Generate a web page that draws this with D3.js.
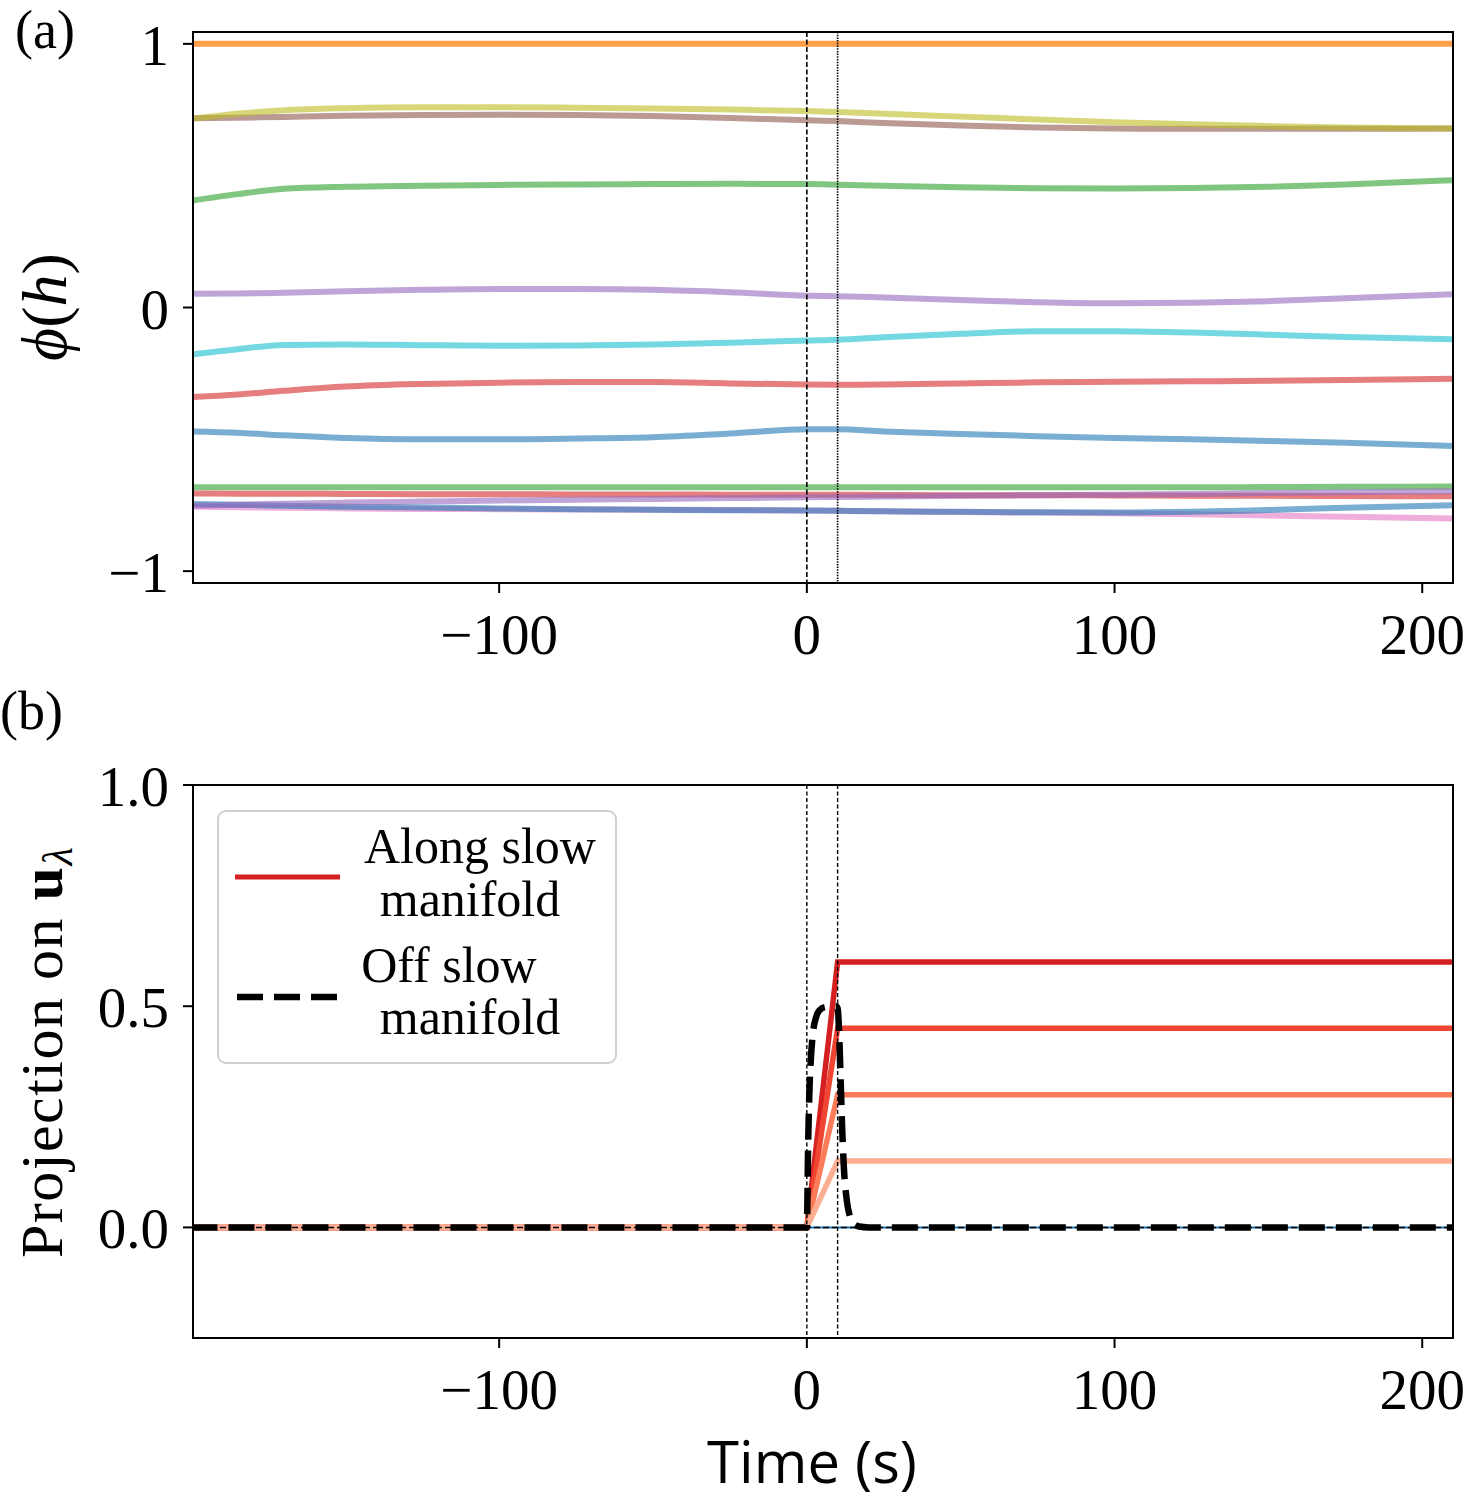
<!DOCTYPE html>
<html>
<head>
<meta charset="utf-8">
<script src="https://cdn.jsdelivr.net/npm/d3@7"></script>
<style>
  html, body { margin: 0; padding: 0; background: #fff; }
  svg { display: block; }
  .serif { font-family: "Liberation Serif", "DejaVu Serif", serif; }
  .sans { font-family: "Open Sans", "Noto Sans", sans-serif; }
</style>
</head>
<body>
<script>
// ---------------- DATA ----------------
// Panel (a): time grid and phi(h) series
const timeA = [-200, -185, -170, -150, -125, -100, -75, -50, -25, 0, 10, 25, 50, 75, 100, 125, 150, 175, 210];
const phiBlue    = [-0.470, -0.475, -0.485, -0.495, -0.500, -0.500, -0.497, -0.492, -0.478, -0.462, -0.462, -0.470, -0.480, -0.488, -0.495, -0.500, -0.506, -0.513, -0.525];
const phiOrange  = [1, 1, 1, 1, 1, 1, 1, 1, 1, 1, 1, 1, 1, 1, 1, 1, 1, 1, 1];
const phiGreen   = [0.405, 0.430, 0.450, 0.458, 0.462, 0.465, 0.467, 0.468, 0.469, 0.468, 0.466, 0.462, 0.456, 0.452, 0.451, 0.453, 0.458, 0.467, 0.483];
const phiRed     = [-0.340, -0.330, -0.316, -0.300, -0.290, -0.285, -0.283, -0.283, -0.288, -0.292, -0.293, -0.292, -0.288, -0.284, -0.282, -0.280, -0.278, -0.275, -0.270];
const phiPurple  = [0.052, 0.053, 0.056, 0.062, 0.067, 0.070, 0.070, 0.067, 0.058, 0.045, 0.043, 0.038, 0.028, 0.020, 0.016, 0.018, 0.024, 0.035, 0.050];
const phiBrown   = [0.718, 0.720, 0.723, 0.727, 0.730, 0.731, 0.730, 0.726, 0.719, 0.710, 0.707, 0.700, 0.690, 0.683, 0.679, 0.678, 0.678, 0.678, 0.679];
const phiPink    = [-0.755, -0.758, -0.760, -0.762, -0.764, -0.765, -0.766, -0.767, -0.768, -0.770, -0.771, -0.773, -0.776, -0.778, -0.780, -0.784, -0.789, -0.794, -0.800];
const phiOlive   = [0.716, 0.735, 0.748, 0.756, 0.760, 0.760, 0.758, 0.755, 0.751, 0.745, 0.742, 0.735, 0.724, 0.713, 0.703, 0.695, 0.688, 0.683, 0.679];
const phiCyan    = [-0.178, -0.158, -0.142, -0.140, -0.143, -0.145, -0.144, -0.140, -0.134, -0.125, -0.122, -0.113, -0.100, -0.090, -0.090, -0.095, -0.103, -0.112, -0.120];
const phiBlue2   = [-0.745, -0.748, -0.752, -0.756, -0.759, -0.762, -0.765, -0.767, -0.769, -0.770, -0.771, -0.773, -0.775, -0.777, -0.778, -0.775, -0.768, -0.760, -0.750];
const phiGreen2  = [-0.682, -0.682, -0.682, -0.682, -0.682, -0.682, -0.682, -0.682, -0.682, -0.682, -0.682, -0.682, -0.682, -0.682, -0.682, -0.682, -0.681, -0.680, -0.679];
const phiRed2    = [-0.705, -0.706, -0.706, -0.707, -0.708, -0.708, -0.709, -0.709, -0.710, -0.710, -0.710, -0.711, -0.712, -0.712, -0.713, -0.714, -0.714, -0.715, -0.716];
const phiPurple2 = [-0.752, -0.748, -0.744, -0.740, -0.736, -0.732, -0.729, -0.726, -0.723, -0.720, -0.719, -0.717, -0.714, -0.712, -0.710, -0.707, -0.704, -0.701, -0.697];
const seriesA = [
  {name: "blue", color: "#1f77b4", values: phiBlue},
  {name: "orange", color: "#ff7f0e", values: phiOrange},
  {name: "green", color: "#2ca02c", values: phiGreen},
  {name: "red", color: "#d62728", values: phiRed},
  {name: "purple", color: "#9467bd", values: phiPurple},
  {name: "brown", color: "#8c564b", values: phiBrown},
  {name: "pink", color: "#e377c2", values: phiPink},
  {name: "olive", color: "#bcbd22", values: phiOlive},
  {name: "cyan", color: "#17becf", values: phiCyan},
  {name: "blue2", color: "#1f77b4", values: phiBlue2},
  {name: "green2", color: "#2ca02c", values: phiGreen2},
  {name: "red2", color: "#d62728", values: phiRed2},
  {name: "purple2", color: "#9467bd", values: phiPurple2}
];

// Panel (b): projections
const timeAlong = [-200, 0, 10, 210];
const alongFinal = [0.6, 0.45, 0.3, 0.15];
const alongColors = ["#d42020", "#f04532", "#fc7c5a", "#fcae92"];
const timeOff = [-200, 0, 0.4, 0.8, 1.3, 2, 3, 4, 6, 9.5, 10, 10.5, 11, 11.5, 12, 13, 14, 15, 17, 20, 210];
const offValues = [0, 0, 0.18, 0.30, 0.38, 0.44, 0.475, 0.49, 0.498, 0.5, 0.495, 0.44, 0.33, 0.22, 0.14, 0.06, 0.025, 0.01, 0.002, 0, 0];
const timeBaseline = [0, 210];

const xTicks = [-100, 0, 100, 200];
const xTickLabels = ["\u2212100", "0", "100", "200"];
const yTicksA = [-1, 0, 1];
const yTickLabelsA = ["\u22121", "0", "1"];
const yTicksB = [0, 0.5, 1.0];
const yTickLabelsB = ["0.0", "0.5", "1.0"];
const markerTimes = [0, 10];

// ---------------- LAYOUT ----------------
const W = 1465, H = 1500;
const svg = d3.select("body").append("svg").attr("width", W).attr("height", H);

const x = d3.scaleLinear().domain([-199.5, 210]).range([193, 1453]);
const yA = d3.scaleLinear().domain([-1.045, 1.045]).range([583, 32]);
const yB = d3.scaleLinear().domain([-0.25, 1.0]).range([1338, 785]);

const tickFont = 57;

function drawAxes(y, ticks, labels, top, bottom) {
  const g = svg.append("g");
  xTicks.forEach((t, i) => {
    g.append("line").attr("x1", x(t)).attr("x2", x(t)).attr("y1", bottom).attr("y2", bottom + 10)
      .attr("stroke", "#000").attr("stroke-width", 2);
    g.append("text").attr("class", "serif").attr("x", x(t)).attr("y", bottom + 71)
      .attr("text-anchor", "middle").attr("font-size", tickFont).text(xTickLabels[i]);
  });
  ticks.forEach((t, i) => {
    g.append("line").attr("x1", 183).attr("x2", 193).attr("y1", y(t)).attr("y2", y(t))
      .attr("stroke", "#000").attr("stroke-width", 2);
    g.append("text").attr("class", "serif").attr("x", 169).attr("y", y(t) + 21)
      .attr("text-anchor", "end").attr("font-size", tickFont).text(labels[i]);
  });
  g.append("rect").attr("x", 193).attr("y", top).attr("width", 1453 - 193).attr("height", bottom - top)
    .attr("fill", "none").attr("stroke", "#000").attr("stroke-width", 2);
}

// ---------------- PANEL (a) ----------------
svg.append("clipPath").attr("id", "clipA").append("rect")
  .attr("x", 193).attr("y", 32).attr("width", 1260).attr("height", 551);
const gA = svg.append("g").attr("clip-path", "url(#clipA)");
const lineA = d3.line().x((d) => x(d[0])).y((d) => yA(d[1])).curve(d3.curveMonotoneX);
seriesA.forEach((s) => {
  gA.append("path").datum(timeA.map((t, i) => [t, s.values[i]]))
    .attr("d", lineA).attr("fill", "none").attr("stroke", s.color)
    .attr("stroke-width", 6).attr("stroke-opacity", s.name === "orange" ? 0.75 : 0.6)
    .attr("stroke-linecap", "butt");
});
gA.append("line").attr("x1", x(markerTimes[0])).attr("x2", x(markerTimes[0])).attr("y1", 32).attr("y2", 583)
  .attr("stroke", "#000").attr("stroke-width", 1.6).attr("stroke-dasharray", "5,2.5");
gA.append("line").attr("x1", x(markerTimes[1])).attr("x2", x(markerTimes[1])).attr("y1", 32).attr("y2", 583)
  .attr("stroke", "#000").attr("stroke-width", 1.6).attr("stroke-dasharray", "1.5,1.2");
drawAxes(yA, yTicksA, yTickLabelsA, 32, 583);

// ---------------- PANEL (b) ----------------
svg.append("clipPath").attr("id", "clipB").append("rect")
  .attr("x", 193).attr("y", 785).attr("width", 1260).attr("height", 553);
const gB = svg.append("g").attr("clip-path", "url(#clipB)");
const lineB = d3.line().x((d) => x(d[0])).y((d) => yB(d[1]));
alongFinal.forEach((v, k) => {
  const vals = [0, 0, v, v];
  gB.append("path").datum(timeAlong.map((t, i) => [t, vals[i]]))
    .attr("d", lineB).attr("fill", "none").attr("stroke", alongColors[k]).attr("stroke-width", 5.5);
});
gB.append("path").datum(timeBaseline.map((t) => [t, 0]))
  .attr("d", lineB).attr("fill", "none").attr("stroke", "#1f77b4").attr("stroke-width", 2);
gB.append("line").attr("x1", 193).attr("x2", 1453).attr("y1", yB(0)).attr("y2", yB(0))
  .attr("stroke", "#000").attr("stroke-width", 1.5).attr("stroke-dasharray", "6,3");
gB.append("path").datum(timeOff.map((t, i) => [t, offValues[i]]))
  .attr("d", lineB.curve(d3.curveMonotoneX)).attr("fill", "none").attr("stroke", "#000")
  .attr("stroke-width", 6.5).attr("stroke-dasharray", "26,11");
markerTimes.forEach((t) => {
  gB.append("line").attr("x1", x(t)).attr("x2", x(t)).attr("y1", 785).attr("y2", 1338)
    .attr("stroke", "#000").attr("stroke-width", 1.4).attr("stroke-dasharray", "4,2.5");
});
drawAxes(yB, yTicksB, yTickLabelsB, 785, 1338);

// Legend
const leg = svg.append("g");
leg.append("rect").attr("x", 218).attr("y", 811).attr("width", 398).attr("height", 252)
  .attr("rx", 8).attr("fill", "#fff").attr("fill-opacity", 0.8).attr("stroke", "#d0d0d0").attr("stroke-width", 2);
leg.append("line").attr("x1", 235).attr("x2", 340).attr("y1", 877).attr("y2", 877)
  .attr("stroke", alongColors[0]).attr("stroke-width", 5);
leg.append("line").attr("x1", 237).attr("x2", 340).attr("y1", 997).attr("y2", 997)
  .attr("stroke", "#000").attr("stroke-width", 6.5).attr("stroke-dasharray", "26,11");
const legFont = 50;
[["Along slow", 480, 863], ["manifold", 470, 916], ["Off slow", 449, 982], ["manifold", 470, 1034]].forEach((d) => {
  leg.append("text").attr("class", "serif").attr("x", d[1]).attr("y", d[2]).attr("text-anchor", "middle")
    .attr("font-size", legFont).text(d[0]);
});

// Panel labels
svg.append("text").attr("class", "serif").attr("x", 15).attr("y", 48).attr("font-size", 54).text("(a)");
svg.append("text").attr("class", "serif").attr("x", 0).attr("y", 729).attr("font-size", 54).text("(b)");

// Y labels
const yl1 = svg.append("text").attr("class", "serif").attr("transform", "translate(66,307) rotate(-90)")
  .attr("text-anchor", "middle").attr("font-size", 64);
yl1.append("tspan").attr("font-style", "italic").text("\u03D5");
yl1.append("tspan").text("(");
yl1.append("tspan").attr("font-style", "italic").text("h");
yl1.append("tspan").text(")");

const yl2 = svg.append("text").attr("class", "serif").attr("transform", "translate(62,1052) rotate(-90)")
  .attr("text-anchor", "middle").attr("font-size", 60).attr("letter-spacing", 1.5);
yl2.append("tspan").text("Projection on ");
yl2.append("tspan").attr("font-weight", "bold").text("u");
yl2.append("tspan").attr("font-size", 42).attr("font-style", "italic").attr("dy", 10).text("\u03BB");

// X label
svg.append("text").attr("class", "sans").attr("x", 812).attr("y", 1483).attr("text-anchor", "middle")
  .attr("font-size", 58).text("Time (s)");
</script>
</body>
</html>
